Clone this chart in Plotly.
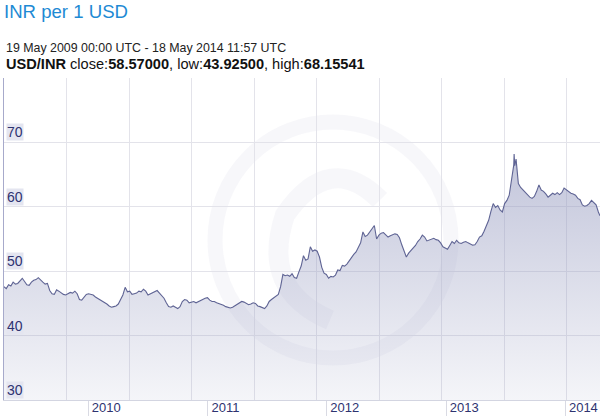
import plotly.graph_objects as go

# ---------------- data ----------------
dates = [
    "2009-05-19", "2009-05-26", "2009-06-02", "2009-06-09", "2009-06-16", "2009-06-23", "2009-06-30",
    "2009-07-07", "2009-07-14", "2009-07-21", "2009-07-28", "2009-08-04", "2009-08-11", "2009-08-18",
    "2009-08-25", "2009-09-01", "2009-09-08", "2009-09-15", "2009-09-22", "2009-09-29", "2009-10-06",
    "2009-10-13", "2009-10-20", "2009-10-27", "2009-11-03", "2009-11-10", "2009-11-17", "2009-11-24",
    "2009-12-01", "2009-12-08", "2009-12-15", "2009-12-22", "2009-12-29",
    "2010-01-05", "2010-01-12", "2010-01-19", "2010-01-26", "2010-02-02", "2010-02-09", "2010-02-16",
    "2010-02-23", "2010-03-02", "2010-03-09", "2010-03-16", "2010-03-23", "2010-03-30", "2010-04-06",
    "2010-04-13", "2010-04-20", "2010-04-27", "2010-05-04", "2010-05-11", "2010-05-18", "2010-05-25",
    "2010-06-01", "2010-06-08", "2010-06-15", "2010-06-22", "2010-06-29", "2010-07-06", "2010-07-13",
    "2010-07-20", "2010-07-27", "2010-08-03", "2010-08-10", "2010-08-17", "2010-08-24", "2010-08-31",
    "2010-09-07", "2010-09-14", "2010-09-21", "2010-09-28", "2010-10-05", "2010-10-12", "2010-10-19",
    "2010-10-26", "2010-11-02", "2010-11-09", "2010-11-16", "2010-11-23", "2010-11-30", "2010-12-07",
    "2010-12-14", "2010-12-21", "2010-12-28",
    "2011-01-04", "2011-01-11", "2011-01-18", "2011-01-25", "2011-02-01", "2011-02-08", "2011-02-15",
    "2011-02-22", "2011-03-01", "2011-03-08", "2011-03-15", "2011-03-22", "2011-03-29", "2011-04-05",
    "2011-04-12", "2011-04-19", "2011-04-26", "2011-05-03", "2011-05-10", "2011-05-17", "2011-05-24",
    "2011-05-31", "2011-06-07", "2011-06-14", "2011-06-21", "2011-06-28", "2011-07-05", "2011-07-12",
    "2011-07-19", "2011-07-26", "2011-08-02", "2011-08-09", "2011-08-16", "2011-08-23", "2011-08-30",
    "2011-09-06", "2011-09-13", "2011-09-20", "2011-09-27", "2011-10-04", "2011-10-11", "2011-10-18",
    "2011-10-25", "2011-11-01", "2011-11-08", "2011-11-15", "2011-11-22", "2011-11-29", "2011-12-06",
    "2011-12-13", "2011-12-20", "2011-12-27",
    "2012-01-03", "2012-01-10", "2012-01-17", "2012-01-24", "2012-01-31", "2012-02-07", "2012-02-14",
    "2012-02-21", "2012-02-28", "2012-03-06", "2012-03-13", "2012-03-20", "2012-03-27", "2012-04-03",
    "2012-04-10", "2012-04-17", "2012-04-24", "2012-05-01", "2012-05-08", "2012-05-15", "2012-05-22",
    "2012-05-29", "2012-06-05", "2012-06-12", "2012-06-19", "2012-06-26", "2012-07-03", "2012-07-10",
    "2012-07-17", "2012-07-24", "2012-07-31", "2012-08-07", "2012-08-14", "2012-08-21", "2012-08-28",
    "2012-09-04", "2012-09-11", "2012-09-18", "2012-09-25", "2012-10-02", "2012-10-09", "2012-10-16",
    "2012-10-23", "2012-10-30", "2012-11-06", "2012-11-13", "2012-11-20", "2012-11-27", "2012-12-04",
    "2012-12-11", "2012-12-18", "2012-12-25",
    "2013-01-01", "2013-01-08", "2013-01-15", "2013-01-22", "2013-01-29", "2013-02-05", "2013-02-12",
    "2013-02-19", "2013-02-26", "2013-03-05", "2013-03-12", "2013-03-19", "2013-03-26", "2013-04-02",
    "2013-04-09", "2013-04-16", "2013-04-23", "2013-04-30", "2013-05-07", "2013-05-14", "2013-05-21",
    "2013-05-28", "2013-06-04", "2013-06-11", "2013-06-18", "2013-06-25", "2013-07-02", "2013-07-09",
    "2013-07-16", "2013-07-23", "2013-07-30", "2013-08-06", "2013-08-13", "2013-08-20", "2013-08-27",
    "2013-08-28", "2013-08-30", "2013-09-03", "2013-09-05", "2013-09-10", "2013-09-17", "2013-09-24",
    "2013-10-01", "2013-10-08", "2013-10-15", "2013-10-22", "2013-10-29", "2013-11-05", "2013-11-12",
    "2013-11-19", "2013-11-26", "2013-12-03", "2013-12-10", "2013-12-17", "2013-12-24", "2013-12-31",
    "2014-01-07", "2014-01-14", "2014-01-21", "2014-01-28", "2014-02-04", "2014-02-11", "2014-02-18",
    "2014-02-25", "2014-03-04", "2014-03-11", "2014-03-18", "2014-03-25", "2014-04-01", "2014-04-08",
    "2014-04-15", "2014-04-22", "2014-04-29", "2014-05-06", "2014-05-13", "2014-05-18",
]
usd_inr = [
    47.6, 47.3, 47.9, 47.7, 48.3, 48.0, 48.1,
    48.6, 48.9, 48.4, 47.9, 47.8, 48.3, 48.6,
    48.7, 49.0, 48.6, 48.3, 48.0, 48.1, 47.0,
    46.5, 46.4, 47.1, 46.9, 46.6, 46.4, 46.3,
    46.5, 46.7, 46.6, 46.9, 46.5,
    45.6, 45.5, 45.9, 46.4, 46.5, 46.4, 46.3,
    46.0, 45.8, 45.5, 45.3, 45.2, 44.9, 44.6,
    44.4, 44.5, 44.6, 44.9, 45.6, 46.3, 47.5,
    46.8, 46.9, 46.4, 46.5, 46.6, 46.9, 46.8,
    47.2, 46.9, 46.3, 46.5, 46.7, 46.9, 47.0,
    46.6, 46.2, 45.8, 45.1, 44.5, 44.4, 44.6,
    44.4, 44.2, 44.5, 45.3, 45.6, 45.5, 45.1,
    45.2, 45.3, 45.1,
    45.3, 45.4, 45.6, 45.8, 45.9, 45.5, 45.3,
    45.3, 45.1, 45.0, 44.9, 44.7, 44.5, 44.4,
    44.3, 44.4, 44.6, 44.8, 45.0, 45.3, 45.2,
    45.0, 44.8, 44.9, 45.1, 45.0, 44.6, 44.5,
    44.4, 44.2, 44.6, 45.3, 45.6, 45.9, 46.1,
    46.4, 47.6, 49.5, 49.3, 49.4, 49.2, 49.6,
    49.0, 48.9, 49.9, 50.8, 52.4, 51.7, 51.9,
    53.8, 53.1, 53.3,
    53.1, 52.2, 50.6, 49.7, 49.5, 48.9, 49.2,
    49.1, 49.4, 50.2, 50.1, 50.9, 50.8, 51.1,
    51.6, 52.2, 52.6, 53.0, 53.8, 54.4, 56.1,
    55.4, 55.6, 56.2, 56.6, 57.1, 55.0, 55.6,
    55.9, 56.0, 55.6, 55.3, 55.5, 55.6, 55.8,
    55.7, 55.2, 54.1, 53.2, 52.2, 52.8, 53.2,
    53.7, 54.0, 54.6, 55.0, 55.6, 55.3, 54.7,
    54.8, 54.9, 55.1,
    54.9, 54.8, 54.4, 53.8, 53.6, 53.4, 54.0,
    54.6, 54.3, 54.8, 54.4, 54.3, 54.5, 54.6,
    54.4, 54.2, 54.05, 54.1, 54.6, 55.3, 55.5,
    56.2, 57.0, 57.9, 59.3, 60.5, 59.9, 60.2,
    59.5, 59.2, 60.5, 61.0, 61.8, 64.2, 66.5,
    68.2, 66.4, 67.4, 66.0, 63.6, 63.0, 62.6,
    62.3, 61.9, 61.5, 61.3, 61.6, 62.4, 63.4,
    62.6, 62.4, 62.0, 61.5, 61.8, 62.1, 61.9,
    62.2, 61.9, 62.2, 62.9, 62.6, 62.3, 62.1,
    62.0, 61.8, 61.3, 61.1, 60.3, 60.1, 60.2,
    60.5, 61.0, 60.6, 60.3, 59.2, 58.6,
]

y_ticks = [30, 40, 50, 60, 70, 80]
y_labels = ["30", "40", "50", "60", "70"]
year_ticks = ["2010-02-01", "2011-02-01", "2012-02-01", "2013-02-01", "2014-02-01"]
year_labels = ["2010", "2011", "2012", "2013", "2014"]
x_range = ["2009-05-19", "2014-05-18"]

title_text = "INR per 1 USD"
period_text = "19 May 2009 00:00 UTC - 18 May 2014 11:57 UTC"
stats_text = "<b>USD/INR</b> close:<b>58.57000</b>, low:<b>43.92500</b>, high:<b>68.15541</b>"

# ---------------- styling ----------------
FONT = "Liberation Sans, Arial, sans-serif"
NAVY = "#2e3370"
GRID = "#e3e3ea"
N_COLS = 9.536  # vertical grid column count across the plot width
WM = "rgba(228,230,240,0.30)"

fig = go.Figure()

fig.add_trace(go.Scatter(
    x=dates, y=usd_inr, mode="lines",
    line=dict(color="#5f6494", width=1.1),
    fill="tozeroy",
    fillgradient=dict(
        type="vertical", start=30, stop=70,
        colorscale=[[0, "rgba(150,155,192,0.10)"], [1, "rgba(150,155,192,0.60)"]],
    ),
    hoverinfo="skip", showlegend=False,
))

# helper trace so that the grid-only axis x2 is drawn
fig.add_trace(go.Scatter(x=[0, N_COLS], y=[30, 30], xaxis="x2", mode="none",
                         hoverinfo="skip", showlegend=False))

shapes = [
    # faint "xe" watermark: ring and inner arc
    dict(type="circle", xref="paper", yref="paper", layer="below",
         x0=(333 - 118 - 4) / 596, x1=(333 + 118 - 4) / 596,
         y0=1 - (240 + 118 - 78) / 322, y1=1 - (240 - 118 - 78) / 322,
         line=dict(color=WM, width=15)),
    dict(type="path", xref="paper", yref="paper", layer="below",
         path="M %f,%f Q %f,%f %f,%f Q %f,%f %f,%f" % (
             (380 - 4) / 596, 1 - (200 - 78) / 322,
             (330 - 4) / 596, 1 - (150 - 78) / 322,
             (285 - 4) / 596, 1 - (215 - 78) / 322,
             (260 - 4) / 596, 1 - (290 - 78) / 322,
             (330 - 4) / 596, 1 - (320 - 78) / 322),
         line=dict(color=WM, width=20)),
]

annotations = []
for lab in y_labels:
    annotations.append(dict(
        xref="paper", yref="y", x=0, y=float(lab), xanchor="left", yanchor="bottom",
        xshift=2, yshift=1, text=lab, showarrow=False,
        font=dict(family=FONT, size=14, color=NAVY),
        bgcolor="#e4e5f0", borderpad=0,
    ))

annotations += [
    dict(xref="paper", yref="paper", x=0, y=1, xanchor="left", yanchor="middle",
         yshift=30, text=period_text, showarrow=False,
         font=dict(family=FONT, size=12.4, color="#222222")),
    dict(xref="paper", yref="paper", x=0, y=1, xanchor="left", yanchor="middle",
         yshift=14, text=stats_text, showarrow=False,
         font=dict(family=FONT, size=14.6, color="#111111")),
]

fig.update_layout(
    width=600, height=416,
    margin=dict(l=4, r=0, t=78, b=16, autoexpand=False),
    paper_bgcolor="white", plot_bgcolor="white",
    title=dict(text=title_text, x=4 / 600, xref="container", xanchor="left",
               y=1 - 11 / 416, yref="container", yanchor="middle", automargin=False,
               font=dict(family=FONT, size=18.6, color="#1e8ad4")),
    xaxis=dict(
        type="date", range=x_range, showgrid=False, zeroline=False, automargin=False,
        tickvals=year_ticks, ticktext=year_labels,
        ticks="outside", ticklen=16, tickcolor="#d9dae3", tickwidth=1,
        ticklabelshift=18, ticklabelstandoff=-21,
        tickfont=dict(family=FONT, size=13, color=NAVY),
        showline=True, linecolor="#d3d5e1", linewidth=1,
    ),
    xaxis2=dict(
        overlaying="x", anchor="y", range=[0, N_COLS], dtick=1, tick0=0, automargin=False,
        showgrid=True, gridcolor=GRID, gridwidth=1, zeroline=False,
        showticklabels=False, ticks="", showline=False,
    ),
    yaxis=dict(
        range=[30, 80], tickvals=y_ticks, showticklabels=False, automargin=False,
        showgrid=True, gridcolor=GRID, gridwidth=1, zeroline=False,
        showline=True, linecolor="#a7aacb", linewidth=1, ticks="",
    ),
    shapes=shapes,
    annotations=annotations,
)

fig.write_html("out.html", config={"displayModeBar": False},
               post_script="document.body.style.margin='0';")
